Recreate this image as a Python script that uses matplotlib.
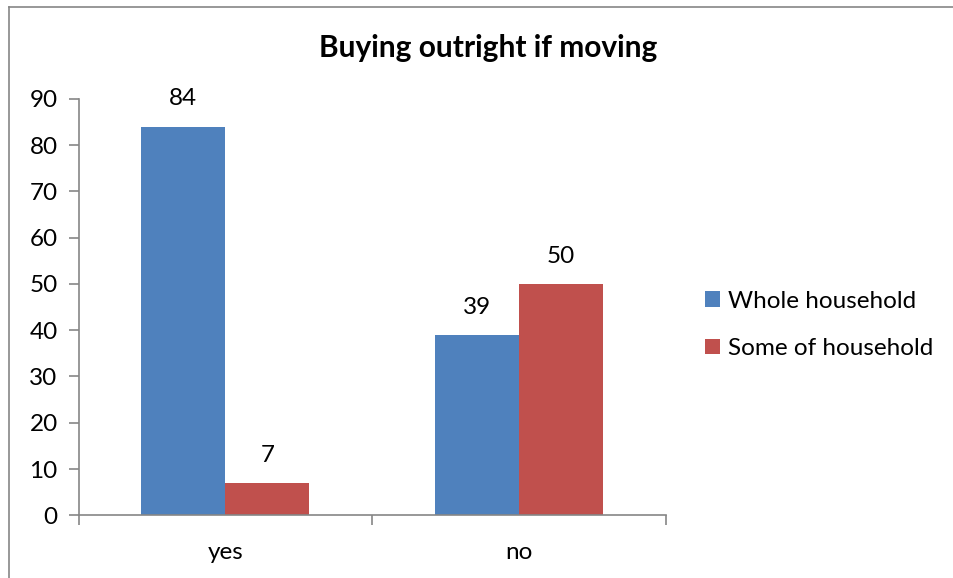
import numpy as np
import matplotlib
matplotlib.use("Agg")
import matplotlib.pyplot as plt
from matplotlib.lines import Line2D

plt.rcParams['font.family'] = ['Lato', 'DejaVu Sans']

categories = ['yes', 'no']
series_names = ['Whole household', 'Some of household']
whole = [84, 39]
some = [7, 50]
colors = ['#4F81BD', '#C0504D']
axis_grey = '#868686'

fig = plt.figure(figsize=(9.54, 5.78), dpi=100)
ax = fig.add_axes([0.0823, 0.1085, 0.698 - 0.0823, 0.829 - 0.1085])

# outer chart frame, only left and top edges visible
fx, fy = 9 / 954, 1 - 6.6 / 578
fig.add_artist(Line2D([fx, fx], [0, fy], transform=fig.transFigure,
                      color=axis_grey, linewidth=1.2))
fig.add_artist(Line2D([fx, 1], [fy, fy], transform=fig.transFigure,
                      color=axis_grey, linewidth=1.2))

x = np.arange(len(categories))
w = 0.286
b1 = ax.bar(x - w / 2, whole, w, color=colors[0], label=series_names[0])
b2 = ax.bar(x + w / 2, some, w, color=colors[1], label=series_names[1])

for bars in (b1, b2):
    for rect in bars:
        h = rect.get_height()
        ax.annotate(f'{h:g}', (rect.get_x() + rect.get_width() / 2, h),
                    xytext=(0, 20), textcoords='offset points',
                    ha='center', va='center', fontsize=17.5)

ax.set_xlim(-0.5, 1.5)
ax.set_ylim(0, 90)
ax.set_yticks(range(0, 91, 10))
ax.set_xticks(x)
ax.set_xticklabels(categories)
ax.set_xticks([-0.5, 0.5, 1.5], minor=True)
ax.tick_params(axis='x', which='major', length=0, pad=19, labelsize=17.5)
ax.tick_params(axis='x', which='minor', length=7, color=axis_grey, width=1.2)
ax.tick_params(axis='y', length=7, color=axis_grey, width=1.2, pad=8, labelsize=17.5)

for side in ('top', 'right'):
    ax.spines[side].set_visible(False)
for side in ('left', 'bottom'):
    ax.spines[side].set_color(axis_grey)
    ax.spines[side].set_linewidth(1.2)

fig.text(488 / 954, 1 - 48 / 578, 'Buying outright if moving',
         ha='center', va='center', fontsize=21.5, fontweight='bold')

ax.legend(loc='center left', bbox_to_anchor=(1.05, 0.457), frameon=False,
          fontsize=17.5, handlelength=0.6, handleheight=0.6, handletextpad=0.35,
          labelspacing=1.1, borderaxespad=0)

fig.savefig('out.png', dpi=100)
